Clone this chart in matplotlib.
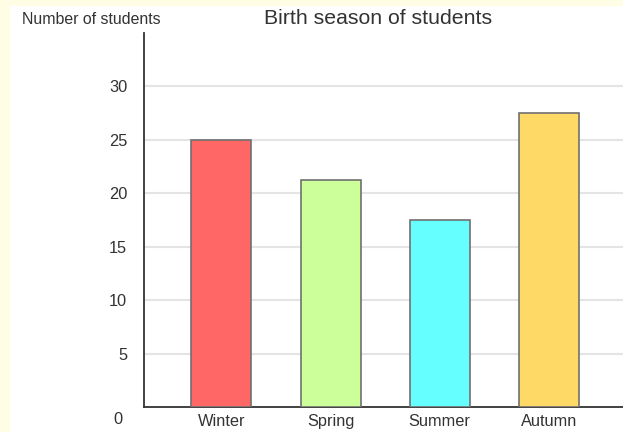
import matplotlib.pyplot as plt
from matplotlib.patches import Rectangle

plt.rcParams['font.family'] = ['Liberation Sans', 'DejaVu Sans']

seasons = ['Winter', 'Spring', 'Summer', 'Autumn']
students = [25, 21.2, 17.5, 27.5]
bar_colors = ['#ff6666', '#ccff99', '#66ffff', '#ffd966']
y_ticks = [5, 10, 15, 20, 25, 30]

fig = plt.figure(figsize=(6.23, 4.32), dpi=100, facecolor='#fffde3')
# white panel inside the yellow page border
fig.patches.append(Rectangle((10 / 623, 0), 1, 1 - 6 / 432, transform=fig.transFigure,
                             facecolor='white', edgecolor='none', zorder=-10))

ax = fig.add_axes([144 / 623, 25 / 432, 1 - 144 / 623, 374 / 432])
ax.set_facecolor('white')

x = range(len(seasons))
ax.bar(x, students, width=0.55, color=bar_colors, edgecolor='#707070', linewidth=1.2, zorder=3)

ax.set_xlim(-0.71, 3.68)
ax.set_ylim(0, 35)
ax.set_yticks(y_ticks)
ax.set_xticks(list(x))
ax.set_xticklabels(seasons)
ax.yaxis.grid(True, color='#e4e4e4', linewidth=1.5, zorder=0)
ax.set_axisbelow(True)

ax.tick_params(axis='both', length=0, labelsize=11.8, labelcolor='#333333')
ax.tick_params(axis='y', pad=12)
ax.tick_params(axis='x', pad=5)

for side in ['top', 'right']:
    ax.spines[side].set_visible(False)
for side in ['left', 'bottom']:
    ax.spines[side].set_color('#333333')
    ax.spines[side].set_linewidth(1.3)

# zero label sits below-left of the origin
ax.annotate('0', xy=(0, 0), xycoords='axes fraction', xytext=(-26, -13),
            textcoords='offset pixels', ha='center', va='center', fontsize=11.8, color='#333333')

fig.text(22 / 623, 1 - 19 / 432, 'Number of students', ha='left', va='center',
         fontsize=11.4, color='#333333')
fig.text(378 / 623, 1 - 19 / 432, 'Birth season of students', ha='center', va='center',
         fontsize=15.3, color='#333333')

fig.savefig('out.png', dpi=100, facecolor=fig.get_facecolor())
